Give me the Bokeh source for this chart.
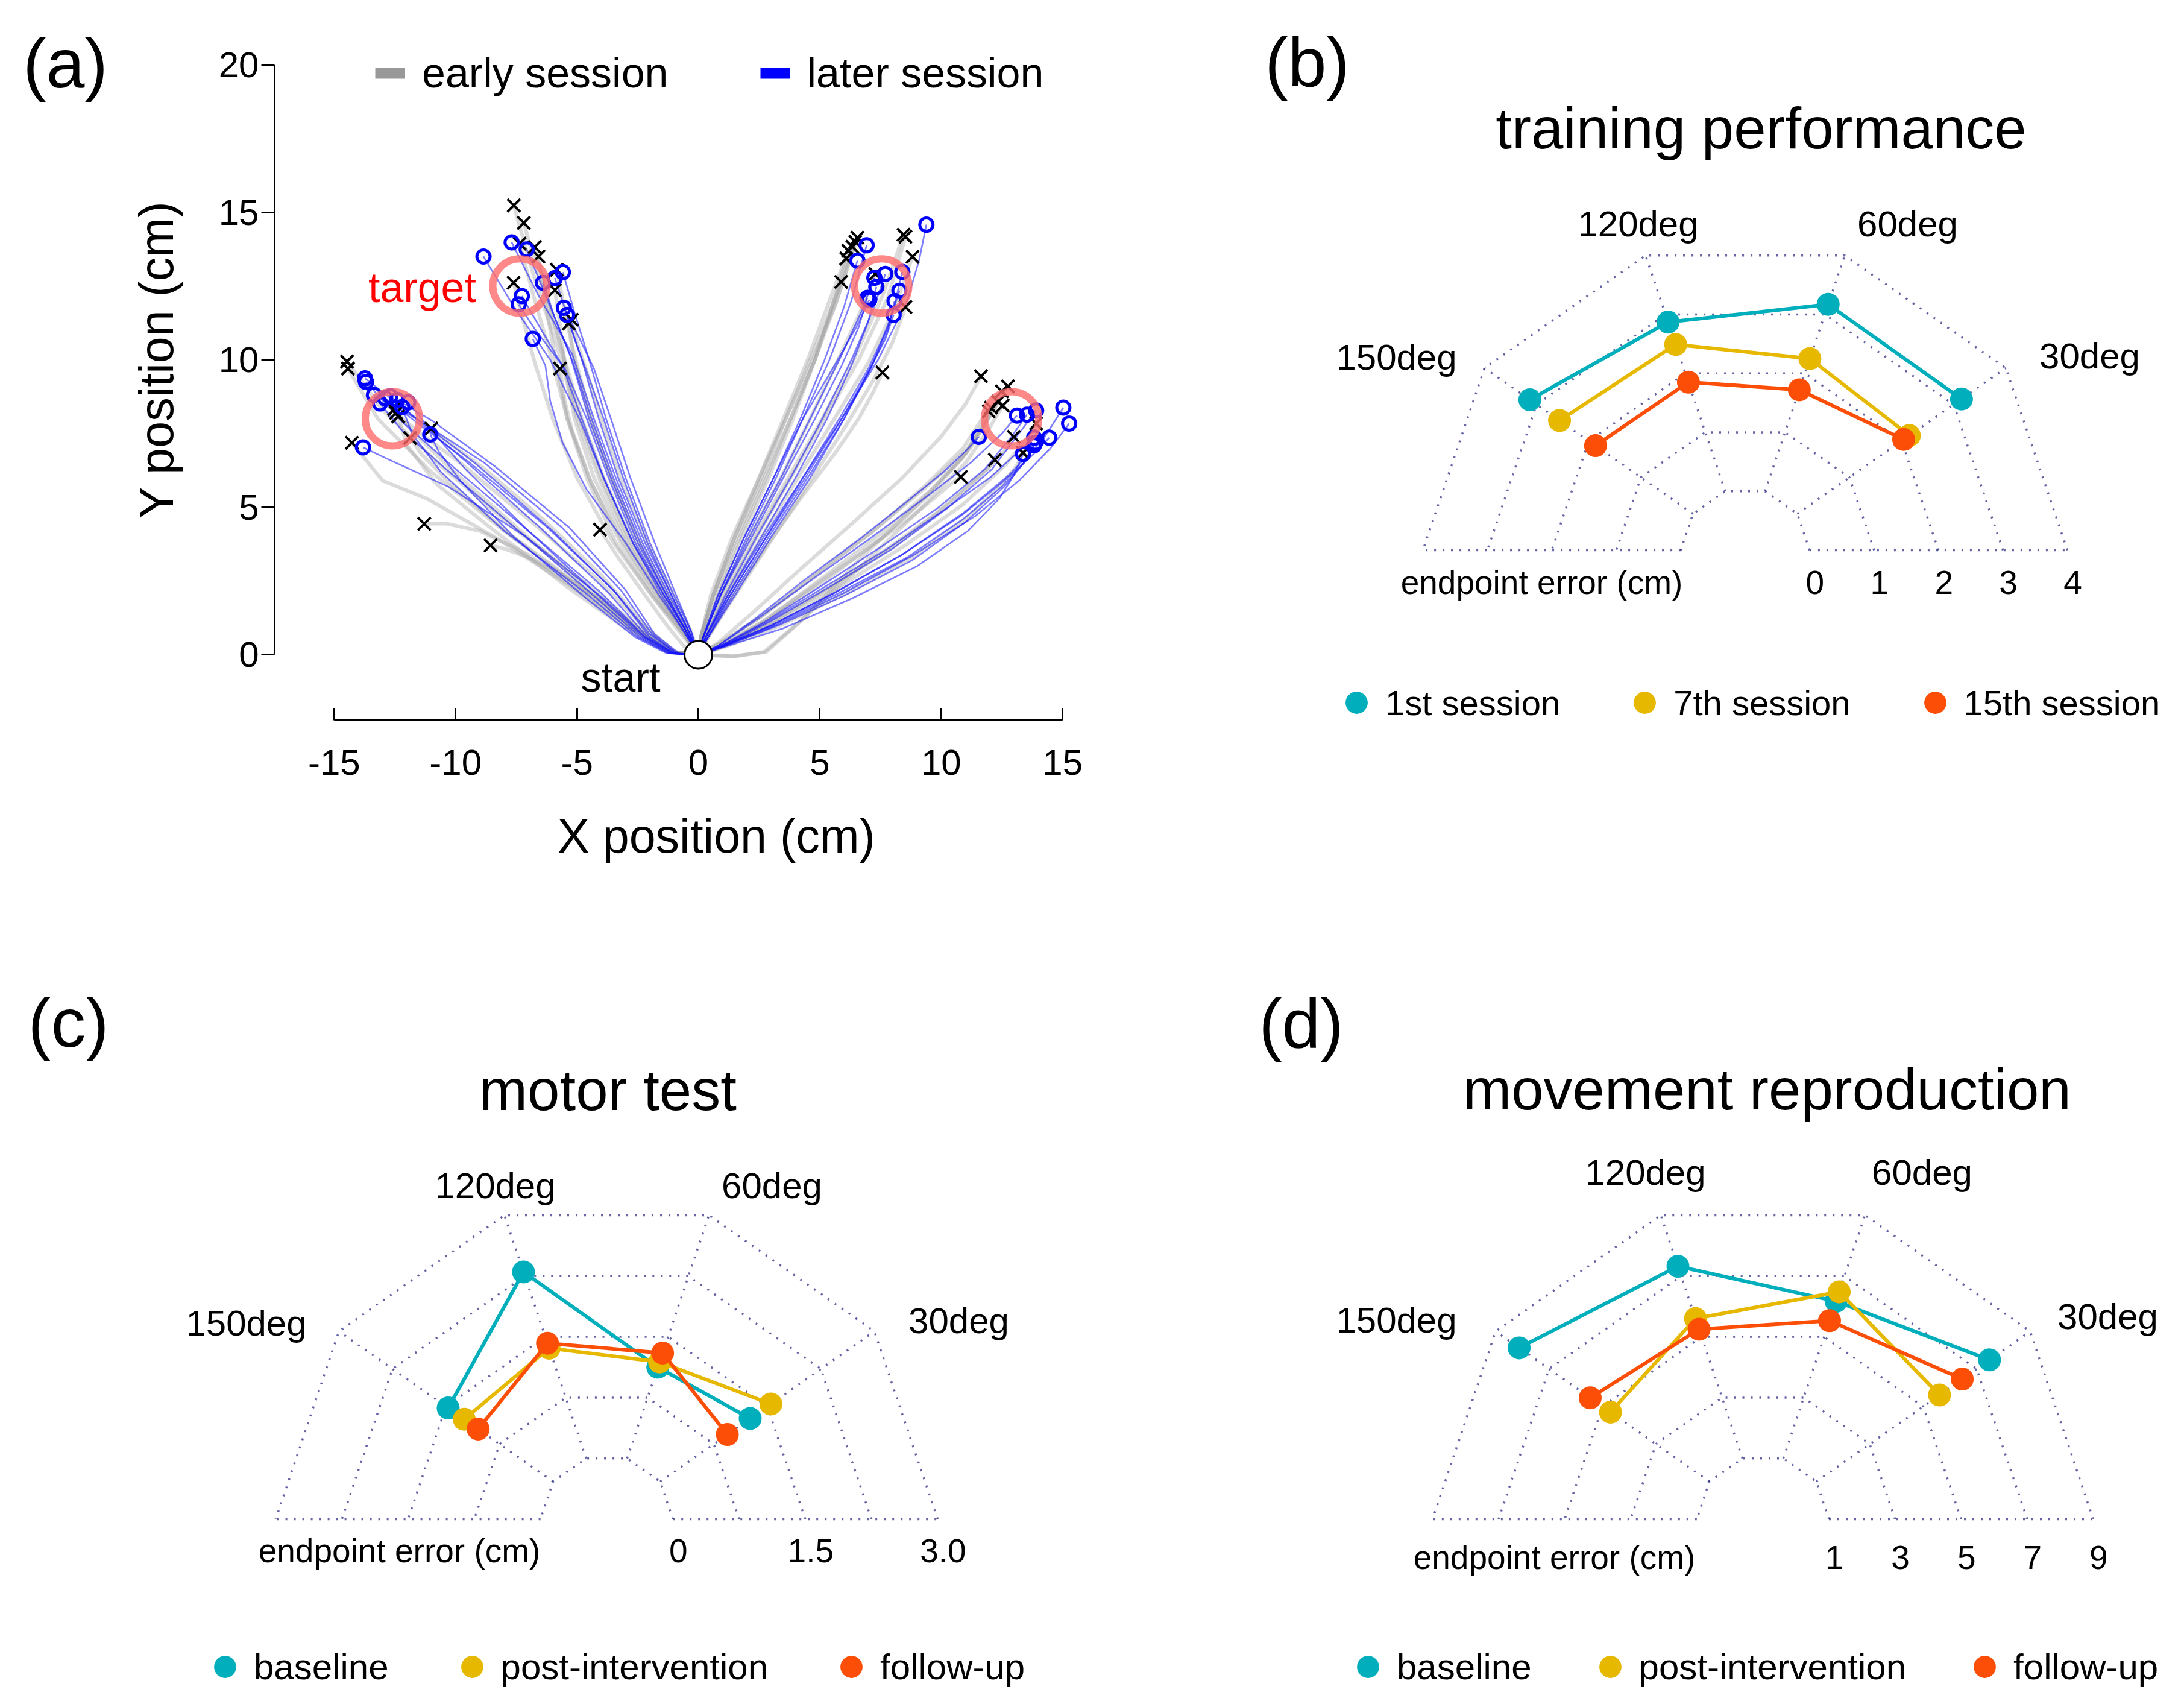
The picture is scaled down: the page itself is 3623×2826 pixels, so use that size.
import math
from bokeh.plotting import figure
from bokeh.layouts import column, row
from bokeh.models import Range1d, FixedTicker, Legend, LegendItem
from bokeh.core.properties import value
from bokeh.embed import file_html
from bokeh.resources import INLINE

FONT = "Liberation Sans"
NAN = float("nan")

# ======================= panel (a) data =======================
x_ticks = [-15, -10, -5, 0, 5, 10, 15]
y_ticks = [0, 5, 10, 15, 20]
target_x = [12.9, 7.55, -7.35, -12.6]
target_y = [8.0, 12.5, 12.5, 8.0]
start_x = [0.0]
start_y = [0.0]

# later session (blue) trajectories, last point = endpoint (o)
later_150_x = [
    [0, -1.0, -2.0, -3.4, -6.0, -9.2, -11.9, -13.73],
    [0, -1.1, -2.2, -4.0, -7.0, -10.0, -12.2, -13.69],
    [0, -0.9, -1.9, -3.2, -5.6, -8.8, -11.6, -13.36],
    [0, -1.2, -2.4, -4.3, -7.4, -10.4, -12.2, -13.11],
    [0, -1.0, -2.1, -3.7, -6.5, -9.5, -11.5, -12.69],
    [0, -0.8, -1.8, -3.0, -5.3, -8.4, -10.9, -12.41],
    [0, -1.1, -2.3, -4.1, -7.0, -9.6, -11.1, -11.95],
    [0, -1.3, -2.6, -4.6, -7.6, -9.8, -10.7, -11.04],
    [0, -1.0, -2.2, -3.9, -7.1, -10.3, -12.7, -13.81],
    [0, -1.2, -2.5, -4.5, -8.0, -10.6, -11.8, -12.2],
    [0, -0.9, -2.0, -3.5, -6.2, -9.4, -11.8, -12.9],
]
later_150_y = [
    [0, 0.05, 0.6, 2.1, 4.2, 6.5, 8.2, 9.37],
    [0, 0.05, 0.6, 2.1, 4.2, 6.3, 7.9, 9.25],
    [0, 0.05, 0.7, 2.2, 4.3, 6.5, 8.0, 8.81],
    [0, 0.05, 0.6, 2.0, 4.2, 6.3, 7.6, 8.52],
    [0, 0.05, 0.6, 2.1, 4.3, 6.5, 7.9, 8.77],
    [0, 0.05, 0.7, 2.2, 4.3, 6.4, 7.9, 8.64],
    [0, 0.05, 0.6, 2.0, 4.2, 6.3, 7.7, 8.56],
    [0, 0.05, 0.6, 1.9, 4.0, 5.9, 6.9, 7.47],
    [0, 0.05, 0.6, 1.9, 4.0, 5.7, 6.6, 7.03],
    [0, 0.05, 0.6, 2.0, 4.2, 6.2, 7.5, 8.4],
    [0, 0.05, 0.7, 2.2, 4.3, 6.5, 8.0, 8.7],
]
later_120_x = [
    [0, -0.5, -1.4, -2.7, -3.9, -4.9, -6.1, -7.6, -8.85],
    [0, -0.4, -1.2, -2.3, -3.4, -4.3, -5.2, -6.6, -7.69],
    [0, -0.5, -1.3, -2.5, -3.6, -4.5, -5.3, -6.3, -7.07],
    [0, -0.3, -1.0, -2.0, -3.0, -3.8, -4.5, -5.1, -5.58],
    [0, -0.4, -1.1, -2.2, -3.3, -4.1, -4.8, -5.4, -5.91],
    [0, -0.5, -1.3, -2.4, -3.5, -4.4, -5.2, -5.9, -6.40],
    [0, -0.6, -1.5, -2.7, -3.9, -4.8, -5.6, -6.6, -7.27],
    [0, -0.5, -1.4, -2.6, -3.7, -4.6, -5.5, -6.7, -7.40],
    [0, -0.3, -0.9, -1.8, -2.8, -3.6, -4.3, -5.0, -5.54],
    [0, -0.4, -1.1, -2.1, -3.1, -3.9, -4.6, -5.1, -5.41],
    [0, -0.6, -1.6, -3.0, -4.6, -5.6, -6.1, -6.3, -6.82],
]
later_120_y = [
    [0, 0.8, 2.0, 3.8, 6.0, 8.0, 10.0, 11.8, 13.50],
    [0, 0.8, 2.0, 3.8, 6.0, 8.0, 10.2, 12.2, 13.98],
    [0, 0.8, 2.0, 3.8, 6.0, 8.0, 10.2, 12.2, 13.74],
    [0, 0.8, 2.0, 3.8, 6.0, 8.0, 10.0, 11.6, 12.97],
    [0, 0.8, 2.0, 3.8, 6.0, 8.0, 10.0, 11.5, 12.77],
    [0, 0.8, 2.0, 3.8, 6.0, 8.0, 10.0, 11.4, 12.61],
    [0, 0.8, 2.0, 3.8, 6.0, 8.0, 9.8, 11.2, 12.16],
    [0, 0.8, 2.0, 3.8, 6.0, 8.0, 9.7, 11.0, 11.88],
    [0, 0.8, 2.0, 3.8, 6.0, 8.0, 9.7, 10.9, 11.76],
    [0, 0.8, 2.0, 3.8, 6.0, 8.0, 9.6, 10.7, 11.52],
    [0, 0.8, 2.0, 3.8, 5.6, 7.2, 8.6, 9.8, 10.71],
]
later_60_x = [
    [0, 0.2, 0.9, 2.0, 3.2, 4.3, 5.4, 6.3, 6.93],
    [0, 0.2, 0.8, 1.9, 3.1, 4.2, 5.2, 6.0, 6.55],
    [0, 0.3, 1.1, 2.4, 3.8, 5.1, 6.3, 7.2, 7.70],
    [0, 0.2, 0.9, 2.1, 3.4, 4.6, 5.8, 6.7, 7.25],
    [0, 0.3, 1.2, 2.6, 4.0, 5.3, 6.3, 7.0, 7.33],
    [0, 0.4, 1.4, 2.9, 4.5, 6.0, 7.2, 8.0, 8.40],
    [0, 0.3, 1.2, 2.7, 4.3, 5.8, 7.0, 7.8, 8.28],
    [0, 0.2, 0.9, 2.2, 3.5, 4.8, 5.9, 6.6, 6.96],
    [0, 0.2, 0.8, 1.9, 3.1, 4.3, 5.6, 6.5, 7.04],
    [0, 0.4, 1.5, 3.0, 4.6, 6.0, 7.1, 7.8, 8.08],
    [0, 0.3, 1.3, 2.8, 4.4, 5.9, 7.0, 7.7, 8.04],
    [0, 0.4, 1.3, 2.8, 4.3, 5.9, 7.4, 8.6, 9.1, 9.39],
]
later_60_y = [
    [0, 0.6, 2.0, 4.0, 6.0, 8.0, 10.0, 12.0, 13.88],
    [0, 0.6, 2.0, 4.0, 6.0, 8.0, 10.0, 11.8, 13.36],
    [0, 0.6, 2.0, 4.0, 6.0, 8.0, 10.0, 11.7, 12.91],
    [0, 0.6, 2.0, 4.0, 6.0, 8.0, 10.0, 11.6, 12.78],
    [0, 0.6, 2.0, 4.0, 6.0, 8.0, 9.8, 11.3, 12.47],
    [0, 0.6, 2.0, 4.0, 6.0, 8.0, 9.9, 11.6, 12.98],
    [0, 0.6, 2.0, 4.0, 6.0, 8.0, 9.7, 11.1, 12.34],
    [0, 0.6, 2.0, 4.0, 6.0, 8.0, 9.8, 11.1, 12.10],
    [0, 0.6, 2.0, 4.0, 6.0, 8.0, 9.8, 11.1, 12.03],
    [0, 0.6, 2.0, 4.0, 6.0, 8.0, 9.7, 11.0, 11.99],
    [0, 0.6, 2.0, 4.0, 6.0, 8.0, 9.6, 10.7, 11.52],
    [0, 0.6, 2.0, 4.0, 6.0, 8.0, 10.0, 12.0, 13.4, 14.58],
]
later_30_x = [
    [0, 0.8, 2.4, 4.6, 7.0, 9.3, 11.2, 12.5, 13.12],
    [0, 0.9, 2.7, 5.0, 7.6, 9.9, 11.8, 12.9, 13.53],
    [0, 1.0, 2.9, 5.4, 8.0, 10.3, 12.1, 13.2, 13.91],
    [0, 1.0, 3.0, 5.6, 8.4, 10.9, 12.8, 14.2, 15.03],
    [0, 1.1, 3.2, 6.0, 8.9, 11.4, 13.2, 14.5, 15.27],
    [0, 1.0, 3.0, 5.6, 8.4, 10.8, 12.6, 13.8, 14.45],
    [0, 0.9, 2.8, 5.2, 7.8, 10.1, 12.0, 13.2, 13.83],
    [0, 1.1, 3.3, 6.0, 8.8, 11.0, 12.6, 13.5, 13.87],
    [0, 1.0, 3.1, 5.8, 8.6, 10.9, 12.5, 13.4, 13.82],
    [0, 0.8, 2.3, 4.3, 6.6, 8.6, 10.1, 11.0, 11.55],
    [0, 1.2, 3.5, 6.3, 9.0, 11.1, 12.4, 13.0, 13.37],
]
later_30_y = [
    [0, 0.3, 1.2, 2.5, 3.9, 5.3, 6.5, 7.5, 8.11],
    [0, 0.3, 1.1, 2.3, 3.7, 5.0, 6.3, 7.4, 8.14],
    [0, 0.3, 1.1, 2.3, 3.6, 5.0, 6.3, 7.5, 8.28],
    [0, 0.3, 1.0, 2.1, 3.4, 4.8, 6.1, 7.3, 8.38],
    [0, 0.3, 1.0, 2.1, 3.4, 4.7, 5.9, 7.0, 7.84],
    [0, 0.3, 1.0, 2.1, 3.4, 4.7, 5.9, 6.8, 7.36],
    [0, 0.3, 1.1, 2.3, 3.6, 4.9, 6.0, 6.9, 7.36],
    [0, 0.3, 1.0, 2.0, 3.2, 4.5, 5.7, 6.6, 7.19],
    [0, 0.3, 1.0, 2.1, 3.3, 4.6, 5.7, 6.5, 7.10],
    [0, 0.3, 1.2, 2.5, 3.9, 5.2, 6.2, 6.9, 7.39],
    [0, 0.3, 0.9, 1.9, 3.0, 4.2, 5.3, 6.1, 6.81],
]

# early session (gray) trajectories, last point = endpoint (x)
early_150_x = [
    [0, -1.0, -2.4, -4.6, -7.6, -10.6, -13.0, -14.47],
    [0, -1.1, -2.6, -4.9, -8.0, -11.0, -13.2, -14.43],
    [0, -1.2, -2.8, -5.2, -8.4, -11.2, -13.0, -14.27],
    [0, -1.0, -2.3, -4.2, -7.0, -9.8, -11.6, -12.45],
    [0, -1.2, -2.7, -4.8, -7.6, -10.2, -11.8, -12.53],
    [0, -1.3, -3.0, -5.4, -8.4, -10.8, -12.0, -12.36],
    [0, -1.0, -2.2, -4.0, -6.4, -8.8, -10.3, -11.0],
    [0, -1.1, -2.6, -4.8, -7.8, -10.2, -11.4, -11.87],
    [0, -1.2, -2.8, -4.8, -7.0, -9.0, -10.4, -11.29],
    [0, -1.0, -2.3, -3.9, -5.6, -7.0, -8.0, -8.56],
    [0, -0.6, -1.3, -2.0, -2.7, -3.3, -3.7, -4.05],
]
early_150_y = [
    [0, 0.1, 0.9, 2.4, 4.3, 6.4, 8.3, 9.94],
    [0, 0.1, 0.9, 2.3, 4.2, 6.2, 8.0, 9.70],
    [0, 0.1, 0.9, 2.3, 4.0, 5.3, 5.9, 7.19],
    [0, 0.1, 1.0, 2.6, 4.6, 6.5, 7.6, 8.20],
    [0, 0.1, 0.9, 2.4, 4.4, 6.3, 7.6, 8.32],
    [0, 0.1, 0.9, 2.3, 4.2, 5.8, 7.1, 8.08],
    [0, 0.1, 1.0, 2.7, 4.6, 6.3, 7.2, 7.67],
    [0, 0.1, 0.9, 2.3, 4.1, 5.8, 6.8, 7.35],
    [0, 0.1, 0.9, 2.1, 3.4, 4.2, 4.45, 4.44],
    [0, 0.1, 0.8, 1.8, 2.7, 3.3, 3.6, 3.71],
    [0, 0.3, 1.0, 1.8, 2.6, 3.3, 3.8, 4.24],
]
early_120_x = [
    [0, -0.6, -1.6, -2.9, -4.1, -5.0, -5.8, -6.8, -7.60],
    [0, -0.5, -1.4, -2.7, -3.9, -4.8, -5.6, -6.5, -7.19],
    [0, -0.7, -1.8, -3.2, -4.5, -5.4, -6.1, -6.8, -7.36],
    [0, -0.5, -1.5, -2.8, -4.0, -4.9, -5.6, -6.2, -6.74],
    [0, -0.8, -1.9, -3.4, -4.6, -5.4, -5.9, -6.3, -6.58],
    [0, -0.4, -1.2, -2.4, -3.6, -4.5, -5.1, -5.5, -5.83],
    [0, -0.6, -1.6, -3.0, -4.3, -5.1, -5.5, -5.7, -5.91],
    [0, -0.7, -1.9, -3.5, -5.0, -6.0, -6.7, -7.2, -7.61],
    [0, -0.5, -1.3, -2.5, -3.6, -4.4, -4.9, -5.2, -5.33],
    [0, -0.3, -1.0, -2.1, -3.2, -4.0, -4.6, -5.0, -5.21],
    [0, -0.6, -1.7, -3.1, -4.4, -5.2, -5.5, -5.6, -5.70],
]
early_120_y = [
    [0, 0.8, 2.0, 3.8, 6.0, 8.0, 10.4, 12.9, 15.23],
    [0, 0.8, 2.0, 3.8, 6.0, 8.0, 10.3, 12.6, 14.64],
    [0, 0.8, 2.0, 3.8, 6.0, 8.0, 10.2, 12.2, 13.94],
    [0, 0.8, 2.0, 3.8, 6.0, 8.0, 10.2, 12.1, 13.82],
    [0, 0.8, 2.0, 3.8, 6.0, 8.0, 10.1, 11.9, 13.50],
    [0, 0.8, 2.0, 3.8, 6.0, 8.0, 10.0, 11.7, 13.05],
    [0, 0.8, 2.0, 3.8, 6.0, 8.0, 9.8, 11.2, 12.36],
    [0, 0.8, 2.0, 3.8, 6.0, 8.0, 9.8, 11.3, 12.61],
    [0, 0.8, 2.0, 3.8, 6.0, 8.0, 9.5, 10.5, 11.23],
    [0, 0.8, 2.0, 3.8, 6.0, 8.0, 9.6, 10.6, 11.36],
    [0, 0.8, 2.0, 3.8, 5.8, 7.6, 8.6, 9.2, 9.70],
]
early_60_x = [
    [0, 0.1, 0.6, 1.6, 2.7, 3.8, 4.8, 5.7, 6.46],
    [0, 0.1, 0.7, 1.7, 2.8, 3.8, 4.8, 5.6, 6.34],
    [0, 0.1, 0.5, 1.4, 2.5, 3.6, 4.7, 5.7, 6.55],
    [0, 0.1, 0.6, 1.5, 2.5, 3.5, 4.5, 5.4, 6.17],
    [0, 0.2, 0.8, 1.8, 2.9, 3.9, 4.8, 5.5, 6.09],
    [0, 0.1, 0.6, 1.5, 2.6, 3.6, 4.5, 5.3, 5.88],
    [0, 0.2, 1.0, 2.3, 3.7, 5.1, 6.4, 7.6, 8.45],
    [0, 0.3, 1.1, 2.4, 3.8, 5.2, 6.6, 7.8, 8.53],
    [0, 0.3, 1.2, 2.6, 4.1, 5.6, 7.0, 8.1, 8.82],
    [0, 0.2, 0.9, 2.1, 3.4, 4.6, 5.7, 6.6, 7.29],
    [0, 0.4, 1.5, 3.1, 4.7, 6.1, 7.2, 8.0, 8.53],
    [0, 0.4, 1.4, 2.9, 4.3, 5.6, 6.6, 7.2, 7.58],
]
early_60_y = [
    [0, 0.6, 2.0, 4.0, 6.0, 8.0, 10.0, 12.0, 14.0],
    [0, 0.6, 2.0, 4.0, 6.0, 8.0, 10.0, 12.0, 13.83],
    [0, 0.6, 2.0, 4.0, 6.0, 8.0, 10.0, 12.0, 14.14],
    [0, 0.6, 2.0, 4.0, 6.0, 8.0, 10.0, 12.0, 13.70],
    [0, 0.6, 2.0, 4.0, 6.0, 8.0, 10.0, 11.8, 13.43],
    [0, 0.6, 2.0, 4.0, 6.0, 8.0, 9.8, 11.4, 12.64],
    [0, 0.6, 2.0, 4.0, 6.0, 8.0, 10.0, 12.2, 14.24],
    [0, 0.6, 2.0, 4.0, 6.0, 8.0, 10.0, 12.1, 14.17],
    [0, 0.6, 2.0, 4.0, 6.0, 8.0, 9.9, 11.8, 13.49],
    [0, 0.6, 2.0, 4.0, 6.0, 8.0, 9.9, 11.5, 12.91],
    [0, 0.6, 2.0, 4.0, 6.0, 7.8, 9.3, 10.6, 11.79],
    [0, 0.6, 2.0, 3.8, 5.4, 6.8, 8.0, 8.9, 9.57],
]
early_30_x = [
    [0, 0.8, 2.2, 4.2, 6.4, 8.4, 10.0, 11.0, 11.64],
    [0, 0.9, 2.6, 4.8, 7.2, 9.4, 11.1, 12.1, 12.75],
    [0, 1.0, 2.8, 5.1, 7.5, 9.6, 11.2, 12.0, 12.50],
    [0, 1.5, 2.8, 4.3, 6.6, 8.9, 10.8, 11.8, 12.34],
    [0, 0.9, 2.6, 4.8, 7.2, 9.3, 10.9, 11.6, 12.05],
    [0, 1.0, 2.9, 5.2, 7.6, 9.6, 11.0, 11.6, 11.96],
    [0, 1.4, 2.7, 4.0, 6.7, 9.1, 11.0, 12.0, 12.54],
    [0, 1.1, 3.2, 5.8, 8.5, 10.9, 12.6, 13.5, 13.91],
    [0, 1.0, 3.0, 5.5, 8.1, 10.3, 11.9, 12.7, 12.99],
    [0, 1.2, 3.4, 6.1, 8.8, 11.0, 12.4, 13.1, 13.37],
    [0, 1.0, 3.0, 5.4, 7.8, 9.8, 11.2, 11.9, 12.21],
    [0, 0.9, 2.6, 4.7, 6.8, 8.5, 9.7, 10.4, 10.81],
]
early_30_y = [
    [0, 0.4, 1.4, 2.9, 4.5, 6.0, 7.4, 8.5, 9.44],
    [0, 0.4, 1.3, 2.7, 4.2, 5.7, 7.0, 8.2, 9.10],
    [0, 0.3, 1.2, 2.6, 4.1, 5.6, 7.0, 8.1, 8.93],
    [0, -0.05, 0.1, 1.2, 3.2, 5.0, 6.6, 7.8, 8.58],
    [0, 0.4, 1.3, 2.7, 4.2, 5.7, 7.0, 7.9, 8.38],
    [0, 0.3, 1.2, 2.5, 4.0, 5.5, 6.8, 7.7, 8.25],
    [0, -0.05, 0.1, 1.0, 3.0, 4.9, 6.5, 7.7, 8.45],
    [0, 0.3, 1.1, 2.3, 3.7, 5.1, 6.4, 7.3, 7.84],
    [0, 0.3, 1.1, 2.3, 3.7, 5.1, 6.3, 7.0, 7.39],
    [0, 0.3, 1.0, 2.1, 3.3, 4.6, 5.7, 6.4, 6.85],
    [0, 0.3, 1.1, 2.3, 3.6, 4.8, 5.8, 6.3, 6.61],
    [0, 0.3, 1.1, 2.3, 3.5, 4.5, 5.3, 5.8, 6.03],
]

# ======================= radar data (b, c, d) =======================
directions = ["150deg", "120deg", "60deg", "30deg"]
plot_angle_deg = [144, 108, 72, 36]          # where each direction sits on the chart
grid_angle_deg = [0, 36, 72, 108, 144, 180]

b_names = ["1st session", "7th session", "15th session"]
b_first = [3.13, 2.87, 3.17, 3.15]
b_seventh = [2.56, 2.49, 2.25, 2.15]
b_fifteenth = [1.87, 1.85, 1.72, 2.04]
b_ticks = ["0", "1", "2", "3", "4"]
b_min, b_max = 0.0, 4.0

cd_names = ["baseline", "post-intervention", "follow-up"]
c_baseline = [1.47, 2.30, 1.125, 1.26]
c_post = [1.245, 1.36, 1.19, 1.55]
c_follow = [1.05, 1.42, 1.30, 0.94]
c_ticks = ["0", "", "1.5", "", "3.0"]
c_min, c_max = 0.0, 3.0

d_baseline = [8.12, 7.32, 6.17, 7.48]
d_post = [4.70, 5.60, 6.48, 5.61]
d_follow = [5.46, 5.25, 5.53, 6.46]
d_ticks = ["1", "3", "5", "7", "9"]
d_min, d_max = 1.0, 9.0

COLORS = ["#00AFBB", "#E7B800", "#FC4E07"]

ROW1_H = 1460
TOTAL_H = 2800


def blank(box):
    """A figure whose whole canvas is its frame, in page-pixel coordinates."""
    x0, y0, x1, y1 = box
    p = figure(width=x1 - x0, height=y1 - y0, x_range=Range1d(x0, x1),
               y_range=Range1d(y1, y0), output_backend="svg",
               toolbar_location=None, title=None, min_border=0,
               x_axis_type=None, y_axis_type=None)
    p.outline_line_color = None
    p.background_fill_color = "white"
    return p


# ======================= panel (a): left strip with letter and y label =======================
fl = blank((0, 0, 340, ROW1_H))
fl.text(x=[108], y=[104], text=["(a)"], text_align="center", text_baseline="middle",
        text_font=value(FONT), text_font_size=value("115px"), text_color="black")
fl.text(x=[259], y=[596], text=["Y position (cm)"], angle=math.pi / 2,
        text_align="center", text_baseline="middle", text_font=value(FONT),
        text_font_size=value("79px"), text_color="black")

# ======================= panel (a): trajectories =======================
fa = figure(width=1620, height=ROW1_H, x_range=Range1d(-17.453, 18.942),
            y_range=Range1d(-2.2175, 20.570), output_backend="svg",
            toolbar_location=None, title=None,
            min_border_left=115, min_border_right=39, min_border_top=79,
            min_border_bottom=ROW1_H - 1194)
fa.grid.visible = False
fa.outline_line_color = None
fa.background_fill_color = "white"

for ax in (fa.xaxis[0], fa.yaxis[0]):
    ax.axis_line_width = 3
    ax.axis_line_color = "black"
    ax.major_tick_line_width = 3
    ax.major_tick_line_color = "black"
    ax.minor_tick_line_color = None
    ax.major_label_text_font = FONT
    ax.major_label_text_font_size = "60px"
    ax.major_label_text_color = "black"

xa = fa.xaxis[0]
xa.bounds = (-15, 15)
xa.ticker = FixedTicker(ticks=x_ticks)
xa.major_label_overrides = {t: str(t) for t in x_ticks}
xa.major_tick_in = 20
xa.major_tick_out = 0
xa.major_label_standoff = 49
xa.axis_label = "X position (cm)"
xa.axis_label_text_font = FONT
xa.axis_label_text_font_size = "79px"
xa.axis_label_text_font_style = "normal"
xa.axis_label_text_color = "black"
xa.axis_label_standoff = 54

ya = fa.yaxis[0]
ya.bounds = (0, 20)
ya.ticker = FixedTicker(ticks=y_ticks)
ya.major_label_overrides = {t: str(t) for t in y_ticks}
ya.major_tick_in = 0
ya.major_tick_out = 22
ya.major_label_standoff = 4

early_xs = early_150_x + early_120_x + early_60_x + early_30_x
early_ys = early_150_y + early_120_y + early_60_y + early_30_y
later_xs = later_150_x + later_120_x + later_60_x + later_30_x
later_ys = later_150_y + later_120_y + later_60_y + later_30_y

fa.multi_line(early_xs, early_ys, line_color="#A0A0A0", line_alpha=0.38, line_width=6)
fa.multi_line(later_xs, later_ys, line_color="#1010FF", line_alpha=0.55, line_width=2.6)

fa.scatter([t[-1] for t in early_xs], [t[-1] for t in early_ys], marker="x",
           size=30, line_color="black", line_width=4)
fa.scatter([t[-1] for t in later_xs], [t[-1] for t in later_ys], marker="circle",
           size=22, fill_color=None, line_color="#0000FF", line_width=5)
fa.scatter(target_x, target_y, marker="circle", size=90, fill_color=None,
           line_color="#FF6B6B", line_alpha=0.8, line_width=12)
fa.scatter(start_x, start_y, marker="circle", size=46, fill_color="white",
           line_color="black", line_width=3)

fa.text(x=[target_x[2] - 1.8], y=[target_y[2] - 0.05], text=["target"],
        text_align="right", text_baseline="middle", text_color="#FF0000",
        text_font=value(FONT), text_font_size=value("70px"))
fa.text(x=[start_x[0] - 3.2], y=[start_y[0] - 0.75], text=["start"],
        text_align="center", text_baseline="middle", text_color="black",
        text_font=value(FONT), text_font_size=value("68px"))

r_early = fa.line(x=[NAN], y=[NAN], line_color="#999999", line_width=18)
r_later = fa.line(x=[NAN], y=[NAN], line_color="#0000FF", line_width=18)
leg_a = Legend(items=[LegendItem(label="early session", renderers=[r_early]),
                      LegendItem(label="later session", renderers=[r_later])],
               orientation="horizontal", location=(167, 1031),
               glyph_width=50, glyph_height=84, label_standoff=28, spacing=152,
               padding=0, margin=0, border_line_color=None,
               background_fill_alpha=0, label_text_font=FONT,
               label_text_font_size="70px", label_text_color="black")
fa.add_layout(leg_a)


# ======================= radar helper =======================
def radar(box, geom, vmin, vmax, series, names, ticks, texts, leg_loc, leg_spacing,
          leg_font="60px"):
    cx, cy, rx, ry = geom
    p = blank(box)

    def pt(r, a_deg):
        a = math.radians(a_deg)
        return cx + rx * r * math.cos(a), cy - ry * r * math.sin(a)

    gx, gy = [], []
    for k in range(5):
        r = (k + 1) / 5
        pts = [pt(r, a) for a in grid_angle_deg]
        gx.append([q[0] for q in pts])
        gy.append([q[1] for q in pts])
    for a in grid_angle_deg:
        p0, p1 = pt(0.2, a), pt(1.0, a)
        gx.append([p0[0], p1[0]])
        gy.append([p0[1], p1[1]])
    p.multi_line(gx, gy, line_color="#22227F", line_alpha=0.7, line_width=3.5,
                 line_dash="3 11")

    items = []
    for vals, name, col in zip(series, names, COLORS):
        pts = [pt(0.2 + 0.8 * (v - vmin) / (vmax - vmin), a)
               for v, a in zip(vals, plot_angle_deg)]
        xs = [q[0] for q in pts]
        ys = [q[1] for q in pts]
        p.line(xs, ys, line_color=col, line_width=6)
        sr = p.scatter(xs, ys, marker="circle", size=38, fill_color=col,
                       line_color=col, line_width=0)
        items.append(LegendItem(label=name, renderers=[sr]))

    tx, ty, tt = [], [], []
    for k, lab in enumerate(ticks):
        if lab:
            q = pt(0.2 + 0.2 * k, 0)
            tx.append(q[0] + 9)
            ty.append(texts["tick_y"])
            tt.append(lab)
    p.text(x=tx, y=ty, text=tt, text_align="center", text_baseline="middle",
           text_font=value(FONT), text_font_size=value("55px"), text_color="black")
    p.text(x=[texts["ee"][0]], y=[texts["ee"][1]], text=["endpoint error (cm)"],
           text_align="center", text_baseline="middle", text_font=value(FONT),
           text_font_size=value("55px"), text_color="black")
    p.text(x=[q[0] for q in texts["dirs"]], y=[q[1] for q in texts["dirs"]],
           text=directions, text_align="center", text_baseline="middle",
           text_font=value(FONT), text_font_size=value("60px"), text_color="black")
    p.text(x=[texts["title"][0]], y=[texts["title"][1]], text=[texts["title"][2]],
           text_align="center", text_baseline="middle", text_font=value(FONT),
           text_font_size=value("96px"), text_color="black")
    p.text(x=[texts["letter"][0]], y=[texts["letter"][1]], text=[texts["letter"][2]],
           text_align="center", text_baseline="middle", text_font=value(FONT),
           text_font_size=value("115px"), text_color="black")

    leg = Legend(items=items, orientation="horizontal", location=leg_loc,
                 glyph_width=92, glyph_height=92, label_standoff=2,
                 spacing=leg_spacing, padding=0, margin=0,
                 border_line_color=None, background_fill_alpha=0,
                 label_text_font=FONT, label_text_font_size=leg_font,
                 label_text_color="black")
    p.add_layout(leg)
    return p


fb = radar((1960, 0, 3600, ROW1_H), (2894.5, 912, 534.5, 514), b_min, b_max,
           [b_first, b_seventh, b_fifteenth], b_names, b_ticks,
           {"tick_y": 965, "ee": (2557, 965),
            "dirs": [(2316, 592), (2717, 371), (3164, 371), (3466, 590)],
            "title": (2921, 212, "training performance"),
            "letter": (2168, 102, "(b)")},
           (2204 - 1960, ROW1_H - 1165 - 46), 94, leg_font="58px")

fc = radar((0, ROW1_H, 1800, TOTAL_H), (1005.9, 2519, 549, 530), c_min, c_max,
           [c_baseline, c_post, c_follow], cd_names, c_ticks,
           {"tick_y": 2571, "ee": (662, 2571),
            "dirs": [(408, 2194), (821, 1966), (1280, 1966), (1590, 2190)],
            "title": (1008, 1807, "motor test"),
            "letter": (113, 1695, "(c)")},
           (327, TOTAL_H - 2764 - 46), 92)

fd = radar((1800, ROW1_H, 3600, TOTAL_H), (2923.9, 2519, 548, 530), d_min, d_max,
           [d_baseline, d_post, d_follow], cd_names, d_ticks,
           {"tick_y": 2582, "ee": (2578, 2582),
            "dirs": [(2316, 2189), (2729, 1944), (3188, 1944), (3496, 2183)],
            "title": (2931, 1806, "movement reproduction"),
            "letter": (2158, 1696, "(d)")},
           (2223 - 1800, TOTAL_H - 2764 - 46), 84)

layout = column(row(column(fl), column(fa), column(fb)),
                row(column(fc), column(fd)))
open("out.html", "w").write(file_html(layout, INLINE))
